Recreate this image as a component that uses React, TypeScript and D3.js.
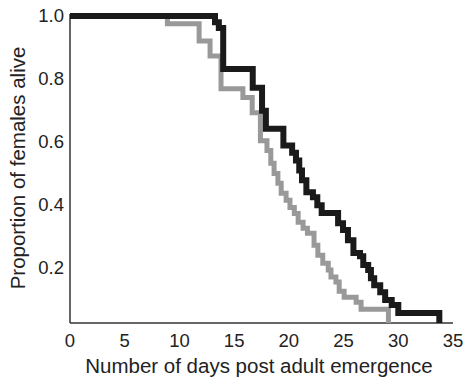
import React from "react";
import * as d3 from "d3";

// survival steps (day of drop, proportion after drop)
const blackDays = [0, 13.25, 13.6, 14.0, 16.7, 17.55, 17.9, 19.5, 20.3, 20.65, 20.95, 21.2, 21.6, 22.2, 22.6, 23.0, 24.5, 24.95, 25.4, 25.9, 26.5, 26.8, 27.25, 27.5, 27.8, 28.35, 28.8, 29.4, 30.0, 33.75];
const blackSurv = [1.0, 0.98, 0.962, 0.832, 0.772, 0.699, 0.642, 0.589, 0.566, 0.541, 0.509, 0.478, 0.44, 0.424, 0.399, 0.374, 0.342, 0.32, 0.288, 0.247, 0.237, 0.209, 0.193, 0.167, 0.145, 0.123, 0.098, 0.082, 0.057, 0];

const greyDays = [0, 8.9, 11.8, 12.8, 13.8, 15.8, 16.65, 17.4, 18.0, 18.35, 18.65, 19.0, 19.3, 19.75, 20.1, 20.5, 20.85, 21.3, 21.7, 22.3, 22.65, 23.1, 23.6, 23.85, 24.3, 24.6, 25.05, 26.15, 26.6, 29.1];
const greySurv = [1.0, 0.975, 0.921, 0.873, 0.769, 0.741, 0.693, 0.604, 0.573, 0.532, 0.5, 0.469, 0.437, 0.415, 0.392, 0.373, 0.345, 0.326, 0.31, 0.272, 0.24, 0.215, 0.193, 0.171, 0.155, 0.126, 0.107, 0.091, 0.069, 0];

const xTicks = [0, 5, 10, 15, 20, 25, 30, 35];
const yTicks = [0.2, 0.4, 0.6, 0.8, 1.0];

const W = 464;
const H = 377;
const left = 70;
const right = 453;
const top = 16;
const bottom = 323;

export default function App() {
  const x = d3.scaleLinear().domain([0, 35]).range([left, right]);
  const y = d3.scaleLinear().domain([0.025, 1]).range([bottom, top]);

  const line = d3
    .line<[number, number]>()
    .x((d) => x(d[0]))
    .y((d) => y(d[1]))
    .curve(d3.curveStepAfter);

  const black = blackDays.map((d, i) => [d, blackSurv[i]] as [number, number]);
  const grey = greyDays.map((d, i) => [d, greySurv[i]] as [number, number]);

  const font = "'Liberation Sans', Arial, sans-serif";

  return (
    <svg
      width={W}
      height={H}
      style={{ position: "absolute", left: 0, top: 0, background: "#fff" }}
      fontFamily={font}
    >
      <defs>
        <clipPath id="plot">
          <rect x={0} y={0} width={W} height={bottom} />
        </clipPath>
      </defs>

      {/* axes */}
      <line x1={left} x2={left} y1={top - 2} y2={bottom} stroke="#333" strokeWidth={1.5} />
      <line x1={left} x2={right} y1={bottom} y2={bottom} stroke="#333" strokeWidth={1.5} />

      {/* curves */}
      <g clipPath="url(#plot)" fill="none" strokeLinejoin="miter">
        <path d={line(grey) || undefined} stroke="#999" strokeWidth={5} />
        <path d={line(black) || undefined} stroke="#1a1a1a" strokeWidth={6} />
      </g>

      {/* y tick labels */}
      {yTicks.map((t) => (
        <text key={t} x={left - 6} y={y(t)} dy="0.35em" textAnchor="end" fontSize={18.5} fill="#222">
          {t.toFixed(1)}
        </text>
      ))}

      {/* x tick labels */}
      {xTicks.map((t) => (
        <text key={t} x={x(t)} y={347} textAnchor="middle" fontSize={18.5} fill="#222">
          {t}
        </text>
      ))}

      <text x={259} y={373} textAnchor="middle" fontSize={20.5} fill="#222">
        Number of days post adult emergence
      </text>
      <text
        transform={`translate(25, 168) rotate(-90)`}
        textAnchor="middle"
        fontSize={20.5}
        fill="#222"
      >
        Proportion of females alive
      </text>
    </svg>
  );
}
